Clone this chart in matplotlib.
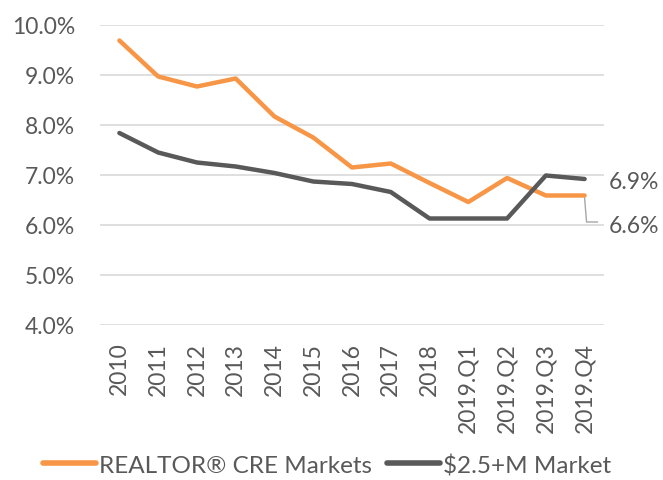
import matplotlib
matplotlib.use("Agg")
import matplotlib.pyplot as plt
from matplotlib.ticker import FuncFormatter

categories = ["2010", "2011", "2012", "2013", "2014", "2015", "2016", "2017",
              "2018", "2019.Q1", "2019.Q2", "2019.Q3", "2019.Q4"]
realtor = [9.69, 8.97, 8.77, 8.93, 8.17, 7.75, 7.15, 7.23, 6.84, 6.46, 6.94, 6.59, 6.59]
market = [7.84, 7.45, 7.25, 7.17, 7.04, 6.87, 6.82, 6.66, 6.13, 6.13, 6.13, 6.99, 6.92]
yticks = [4.0, 5.0, 6.0, 7.0, 8.0, 9.0, 10.0]
end_labels = ["6.9%", "6.6%"]

plt.rcParams['font.family'] = ['Lato', 'DejaVu Sans']
txt = "#595959"
fs = 16.5

fig = plt.figure(figsize=(6.63, 4.81), dpi=100)
ax = fig.add_axes([100/663, 1-326/481, 504/663, 300/481])

x = list(range(len(categories)))
ax.plot(x, realtor, color="#F79646", lw=3.2, solid_capstyle="round", label="REALTOR® CRE Markets")
ax.plot(x, market, color="#595959", lw=3.2, solid_capstyle="round", label="$2.5+M Market")

ax.set_xlim(-0.5, len(categories) - 0.5)
ax.set_ylim(4.0, 10.0)
ax.set_yticks(yticks)
ax.yaxis.set_major_formatter(FuncFormatter(lambda v, p: f"{v:.1f}%"))
ax.set_xticks(x)
ax.set_xticklabels(categories, rotation=90)
ax.grid(axis="y", color="#D9D9D9", lw=1.2)
ax.set_axisbelow(True)
for s in ax.spines.values():
    s.set_visible(False)
ax.tick_params(axis="both", length=0, colors=txt, labelsize=fs)
ax.tick_params(axis="y", pad=18)
ax.tick_params(axis="x", pad=12)

# end labels
xl = len(categories) - 1
ax.annotate(end_labels[0], xy=(xl, market[-1]), xytext=(xl + 0.62, 6.87),
            fontsize=fs, color=txt, va="center", ha="left", annotation_clip=False)
ax.annotate(end_labels[1], xy=(xl, 6.0), xytext=(xl + 0.62, 5.99),
            fontsize=fs, color=txt, va="center", ha="left", annotation_clip=False)
ax.plot([xl, xl + 0.05, xl + 0.33], [realtor[-1] - 0.05, 6.06, 6.06], color="#A6A6A6",
        lw=1.0, clip_on=False)

leg = fig.legend(loc="center", bbox_to_anchor=(327/663, 1-466/481), ncol=2, frameon=False,
                 fontsize=17.5, handlelength=2.2, handletextpad=0.12, columnspacing=0.6,
                 labelcolor=txt)
for h in leg.get_lines():
    h.set_linewidth(4.0)

fig.savefig("out.png", dpi=100)
